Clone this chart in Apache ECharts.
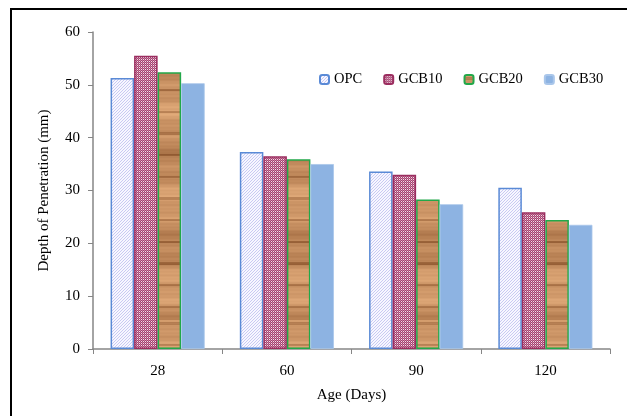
<!DOCTYPE html>
<html><head><meta charset="utf-8">
<script src="https://cdn.jsdelivr.net/npm/echarts@6/dist/echarts.min.js"></script>
<style>html,body{margin:0;padding:0;background:#fff}#c{width:627px;height:416px}</style>
</head><body><div id="c"></div>
<script>
var categories = ['28', '60', '90', '120'];
var seriesNames = ['OPC', 'GCB10', 'GCB20', 'GCB30'];
var opc   = [51.3, 37.3, 33.6, 30.5];
var gcb10 = [55.5, 36.5, 33.0, 25.9];
var gcb20 = [52.4, 35.9, 28.3, 24.4];
var gcb30 = [50.3, 35.0, 27.4, 23.5];
var yTicks = [0, 10, 20, 30, 40, 50, 60];

function mk(w, h, draw) { var c = document.createElement('canvas'); c.width = w; c.height = h; draw(c.getContext('2d')); return c; }
var hatch = mk(3, 3, function (g) {
  g.fillStyle = '#f7f7ff'; g.fillRect(0, 0, 3, 3);
  g.fillStyle = '#c9c9f2';
  g.fillRect(2, 0, 1, 1); g.fillRect(1, 1, 1, 1); g.fillRect(0, 2, 1, 1);
});
var checker = mk(2, 2, function (g) {
  g.fillStyle = '#a5416f'; g.fillRect(0, 0, 2, 2);
  g.fillStyle = '#f1dde7'; g.fillRect(1, 1, 1, 1);
  g.fillStyle = '#c77c9e'; g.fillRect(0, 0, 1, 1);
});
var wood = mk(60, 320, function (g) {
  for (var y = 0; y < 320; y++) {
    var t = Math.sin(y * 0.071) * 0.45 + Math.sin(y * 0.23 + 1.3) * 0.3 + Math.sin(y * 0.61 + 0.4) * 0.15 + Math.sin(y * 1.7 + 2.2) * 0.1;
    var k = 0.62 + t * 0.32;
    if (Math.sin(y * 0.29 + 0.7) > 0.93) k -= 0.35;
    var r = Math.round(140 + 95 * k), gg = Math.round(85 + 95 * k), b = Math.round(45 + 85 * k);
    g.fillStyle = 'rgb(' + r + ',' + gg + ',' + b + ')';
    g.fillRect(0, y, 60, 1);
  }
});

var styles = [
  { color: { image: hatch, repeat: 'repeat' }, borderColor: '#5a8ad6', borderWidth: 1.5 },
  { color: { image: checker, repeat: 'repeat' }, borderColor: '#9b2d5f', borderWidth: 1.5 },
  { color: { image: wood, repeat: 'repeat' }, borderColor: '#22a84a', borderWidth: 1.5 },
  { color: '#8db3e2', borderColor: '#a9c6ea', borderWidth: 0.8 }
];
var data = [opc, gcb10, gcb20, gcb30];
var font = '"Liberation Serif", "Times New Roman", serif';

var chart = echarts.init(document.getElementById('c'), null, { renderer: 'canvas' });
chart.setOption({
  animation: false,
  backgroundColor: '#fff',
  textStyle: { fontFamily: font },
  graphic: [
    { type: 'line', shape: { x1: 10, y1: 9, x2: 627, y2: 9 }, style: { stroke: '#000', lineWidth: 2 } },
    { type: 'line', shape: { x1: 11, y1: 8, x2: 11, y2: 416 }, style: { stroke: '#000', lineWidth: 2 } }
  ],
  legend: {
    data: seriesNames, top: 67, left: 314, itemWidth: 9, itemHeight: 9, itemGap: 21,
    textStyle: { fontFamily: font, fontSize: 14.5, color: '#000' }
  },
  grid: { left: 93, top: 32, width: 517, height: 317 },
  xAxis: {
    type: 'category', data: categories,
    name: 'Age (Days)', nameLocation: 'middle', nameGap: 39,
    nameTextStyle: { fontFamily: font, fontSize: 15, color: '#000' },
    axisLine: { lineStyle: { color: '#868686', width: 1.5 } },
    axisTick: { show: true, length: 5, lineStyle: { color: '#868686' } },
    axisLabel: { fontFamily: font, fontSize: 15, color: '#000', margin: 15 }
  },
  yAxis: {
    type: 'value', min: 0, max: 60, interval: 10,
    name: 'Depth of Penetration (mm)', nameLocation: 'middle', nameGap: 41,
    nameTextStyle: { fontFamily: font, fontSize: 15, color: '#000' },
    axisLine: { show: true, lineStyle: { color: '#868686', width: 1.5 } },
    axisTick: { show: true, length: 5, lineStyle: { color: '#868686' } },
    splitLine: { show: false },
    axisLabel: { fontFamily: font, fontSize: 15, color: '#000', margin: 13,
      formatter: function (v) { return yTicks.indexOf(v) >= 0 ? String(v) : ''; } }
  },
  series: seriesNames.map(function (n, i) {
    return { name: n, type: 'bar', data: data[i], barWidth: '18.2%', barGap: '0%', itemStyle: styles[i] };
  })
});
</script></body></html>
